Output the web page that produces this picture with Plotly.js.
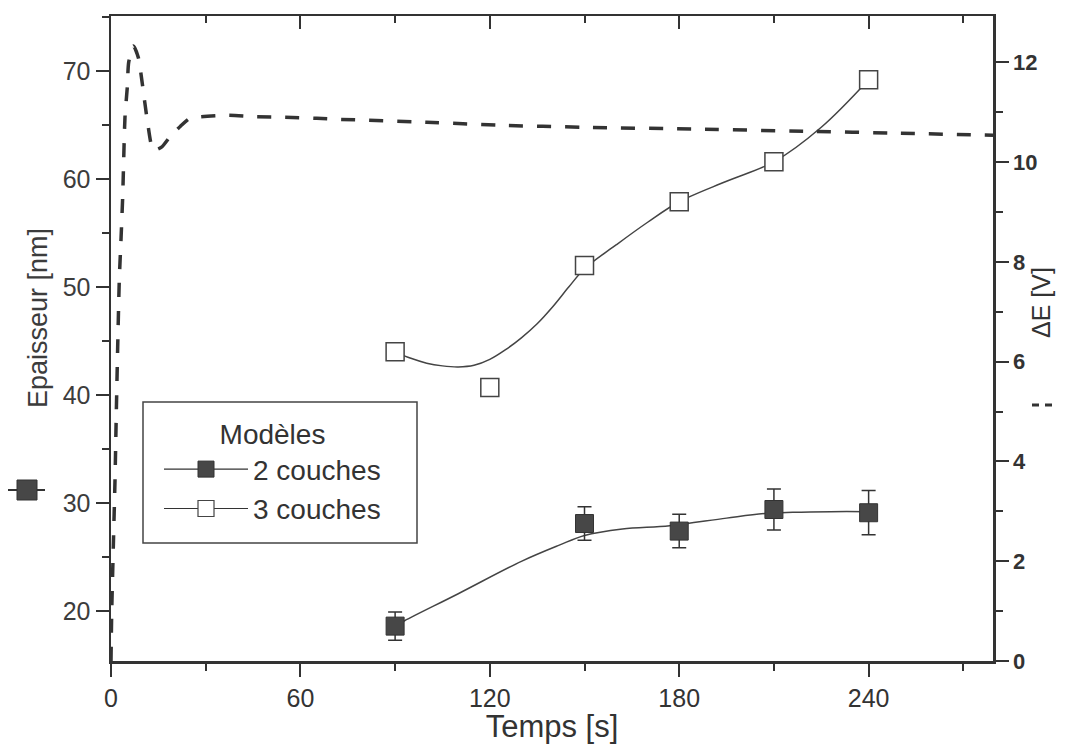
<!DOCTYPE html>
<html><head><meta charset="utf-8">
<script src="https://cdn.plot.ly/plotly-3.0.1.min.js"></script>
<style>html,body{margin:0;padding:0;background:#fff;}#chart{width:1067px;height:744px;}</style>
</head><body><div id="chart"></div>
<script>
// ---- ΔE transient (right axis, dashed) ----
const tDE = [0, 0.22, 0.73, 1.27, 1.68, 2.12, 2.63, 3.2, 3.7, 4.43, 5.16, 5.6, 7.1, 8.65, 9.9, 11.5, 13.4, 16, 18.7, 22, 25, 28.2, 36.6, 46.2, 55.1, 65.2, 71.9, 100, 123, 150, 186.6, 220, 250, 279.4];
const vDE = [0, 0.96, 2.28, 3.63, 4.97, 6.3, 7.64, 8.5, 9.3, 10.9, 11.5, 12.0, 12.33, 12.1, 11.58, 10.84, 10.24, 10.3, 10.51, 10.72, 10.88, 10.91, 10.94, 10.91, 10.9, 10.88, 10.86, 10.8, 10.74, 10.7, 10.66, 10.62, 10.58, 10.54];

// ---- Thickness, 2-layer model ----
const t2 = [90, 150, 180, 210, 240];
const e2 = [18.6, 28.1, 27.4, 29.4, 29.1];
const err2 = [1.3, 1.55, 1.55, 1.9, 2.05];
const tFit2 = [90, 93, 110, 130, 142, 150, 162, 177, 195, 208, 216, 228, 240];
const vFit2 = [18.6, 19.1, 21.6, 24.6, 26.1, 27.0, 27.6, 27.9, 28.6, 29.05, 29.14, 29.2, 29.2];

// ---- Thickness, 3-layer model ----
const t3 = [90, 120, 150, 180, 210, 240];
const e3 = [44.0, 40.7, 52.0, 57.9, 61.6, 69.2];
const tFit3 = [90, 95, 100, 105, 110, 115, 120, 125, 130, 135, 140, 145, 150, 160, 170, 180, 195, 210, 225, 240];
const vFit3 = [44.0, 43.4, 42.95, 42.7, 42.6, 42.75, 43.3, 44.2, 45.3, 46.6, 48.2, 50.0, 51.7, 53.9, 56.0, 57.9, 59.8, 61.6, 64.8, 69.2];

const xTicks = [0, 60, 120, 180, 240];
const legendNames = ['2 couches', '3 couches'];

// ---- layout geometry (pixels) ----
const W = 1067, H = 744, L = 111, R = 993, T = 16, B = 661;
const px = x => (x - L) / (R - L);
const py = y => (B - y) / (B - T);

const ink = '#333333';
const sans = 'Liberation Sans, Arial, sans-serif';

const traces = [
  {x: tDE, y: vDE, yaxis: 'y2', mode: 'lines', showlegend: false, hoverinfo: 'skip',
   line: {color: ink, width: 3.5, dash: '14px,14px', shape: 'spline', smoothing: 0.6}},
  {x: tFit3, y: vFit3, mode: 'lines', showlegend: false,
   line: {color: '#444', width: 1.5, shape: 'spline', smoothing: 1}},
  {x: tFit2, y: vFit2, mode: 'lines', showlegend: false,
   line: {color: '#444', width: 1.5, shape: 'spline', smoothing: 1}},
  {x: t2, y: e2, mode: 'markers', showlegend: false,
   error_y: {type: 'data', array: err2, visible: true, color: ink, thickness: 1.5, width: 7},
   marker: {symbol: 'square', size: 18, color: '#474747', line: {color: ink, width: 1}}},
  {x: t3, y: e3, mode: 'markers', showlegend: false,
   marker: {symbol: 'square', size: 18, color: '#ffffff', line: {color: '#444', width: 1.5}}},
  {x: [null], y: [null], xaxis: 'x2', mode: 'lines+markers', name: legendNames[0],
   marker: {symbol: 'square', size: 16, color: '#474747', line: {color: ink, width: 1}},
   line: {color: ink, width: 1.2}},
  {x: [null], y: [null], xaxis: 'x2', mode: 'lines+markers', name: legendNames[1],
   marker: {symbol: 'square', size: 16, color: '#ffffff', line: {color: '#444', width: 1.2}},
   line: {color: ink, width: 1.2}}
];

const axisCommon = {showline: true, linecolor: ink, linewidth: 2.5, showgrid: false, zeroline: false,
  tickcolor: ink, tickwidth: 2, ticklen: 13};

const layout = {
  width: W, height: H,
  margin: {l: L, r: W - R, t: T, b: H - B, pad: 0},
  paper_bgcolor: '#fff', plot_bgcolor: '#fff',
  showlegend: true,
  font: {family: sans, color: ink},
  xaxis: Object.assign({}, axisCommon, {
    range: [0, 279.4], tickmode: 'array', tickvals: xTicks, ticktext: xTicks.map(String),
    ticks: 'outside', tickfont: {family: sans, size: 25, color: ink},
    minor: {dtick: 30, tick0: 0, ticks: 'outside', ticklen: 7, tickwidth: 2, tickcolor: ink},
    title: {text: 'Temps [s]', font: {family: sans, size: 31, color: ink}, standoff: 8}
  }),
  xaxis2: Object.assign({}, axisCommon, {
    overlaying: 'x', side: 'top', range: [0, 279.4], tickmode: 'array', tickvals: xTicks,
    ticks: 'inside', showticklabels: false,
    minor: {dtick: 30, tick0: 0, ticks: 'inside', ticklen: 7, tickwidth: 2, tickcolor: ink}
  }),
  yaxis: Object.assign({}, axisCommon, {
    range: [15.37, 75.1], dtick: 10, tick0: 0, ticks: 'outside',
    tickfont: {family: sans, size: 25, color: '#3c3c3c'},
    minor: {dtick: 5, tick0: 0, ticks: 'outside', ticklen: 7, tickwidth: 2, tickcolor: ink}
  }),
  yaxis2: Object.assign({}, axisCommon, {
    overlaying: 'y', side: 'right', anchor: 'x', range: [0, 12.93], dtick: 2, tick0: 0, ticks: 'outside',
    tickfont: {family: sans, size: 22, color: ink, weight: 'bold'},
    minor: {dtick: 1, tick0: 0, ticks: 'outside', ticklen: 7, tickwidth: 2, tickcolor: ink}
  }),
  legend: {
    x: px(159), y: py(408), xanchor: 'left', yanchor: 'top',
    bgcolor: 'rgba(0,0,0,0)', borderwidth: 0,
    font: {family: sans, size: 28, color: ink},
    title: {text: 'Modèles', side: 'top center', font: {family: sans, size: 28, color: ink}},
    itemwidth: 84, tracegroupgap: 0
  },
  annotations: [
    {xref: 'paper', yref: 'paper', x: px(38), y: py(318), text: 'Epaisseur [nm]', textangle: -90,
     showarrow: false, xanchor: 'center', yanchor: 'middle', font: {family: sans, size: 27, color: '#3c3c3c'}},
    {xref: 'paper', yref: 'paper', x: px(1041), y: py(303), text: 'ΔE [V]', textangle: -90,
     showarrow: false, xanchor: 'center', yanchor: 'middle', font: {family: sans, size: 25, color: ink}}
  ],
  shapes: [
    {type: 'rect', xref: 'paper', yref: 'paper', x0: px(143), x1: px(417), y0: py(543), y1: py(402),
     line: {color: '#444', width: 1.5}, fillcolor: 'rgba(0,0,0,0)'},
    {type: 'line', xref: 'paper', yref: 'paper', x0: px(8), x1: px(45), y0: py(490), y1: py(490),
     line: {color: ink, width: 2}},
    {type: 'rect', xref: 'paper', yref: 'paper', x0: px(17), x1: px(37), y0: py(500), y1: py(480),
     line: {color: ink, width: 1}, fillcolor: '#474747'},
    {type: 'line', xref: 'paper', yref: 'paper', x0: px(1032), x1: px(1039), y0: py(405), y1: py(405),
     line: {color: ink, width: 3}},
    {type: 'line', xref: 'paper', yref: 'paper', x0: px(1045), x1: px(1052), y0: py(405), y1: py(405),
     line: {color: ink, width: 3}}
  ]
};

Plotly.newPlot('chart', traces, layout, {staticPlot: true, displayModeBar: false});
</script>
</body></html>
